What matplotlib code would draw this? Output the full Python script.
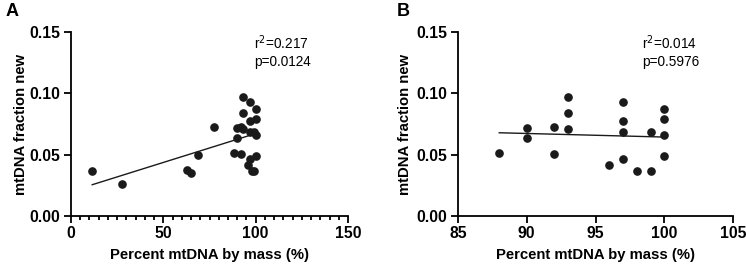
import numpy as np
import matplotlib
matplotlib.use("Agg")
import matplotlib.pyplot as plt
from matplotlib.ticker import MultipleLocator

plt.rcParams['font.family'] = ['Liberation Sans', 'DejaVu Sans']

# panel A: all samples
pct_a = [11.5, 27.6, 62.6, 64.8, 68.6, 77.6,
         88, 90, 90, 92, 92, 93, 93, 93, 96, 97, 97, 97, 97, 98, 99, 99, 100, 100, 100, 100]
frac_a = [0.0367, 0.0258, 0.0375, 0.0353, 0.0497, 0.0725,
          0.0516, 0.0715, 0.0636, 0.0725, 0.0508, 0.0973, 0.0837, 0.0712, 0.0413,
          0.0932, 0.0777, 0.0687, 0.0467, 0.0369, 0.0369, 0.0685, 0.0870, 0.0788, 0.0663, 0.0489]

# panel B: samples above 85%
pct_b = [88, 90, 90, 92, 92, 93, 93, 93, 96, 97, 97, 97, 97, 98, 99, 99, 100, 100, 100, 100]
frac_b = [0.0516, 0.0715, 0.0636, 0.0725, 0.0508, 0.0973, 0.0837, 0.0712, 0.0413,
          0.0932, 0.0777, 0.0687, 0.0467, 0.0369, 0.0369, 0.0685, 0.0870, 0.0788, 0.0663, 0.0489]

stats_a = "r$^2$=0.217\np=0.0124"
stats_b = "r$^2$=0.014\np=0.5976"

W, H = 746, 267
fig = plt.figure(figsize=(W / 100, H / 100), dpi=100)


def make_ax(left, right, top, bottom):
    return fig.add_axes([left / W, 1 - bottom / H, (right - left) / W, (bottom - top) / H])


def style(ax, xlim, xmajor, xminor, ylab_x):
    ax.set_xlim(*xlim)
    ax.set_ylim(0, 0.15)
    ax.xaxis.set_major_locator(MultipleLocator(xmajor))
    if xminor:
        ax.xaxis.set_minor_locator(MultipleLocator(xminor))
    ax.yaxis.set_major_locator(MultipleLocator(0.05))
    ax.yaxis.set_major_formatter(plt.FormatStrFormatter('%.2f'))
    for s in ['top', 'right']:
        ax.spines[s].set_visible(False)
    for s in ['left', 'bottom']:
        ax.spines[s].set_linewidth(1.3)
    ax.tick_params(which='major', length=5, width=1.3, labelsize=11.3, pad=2.5)
    ax.tick_params(which='minor', length=3, width=1.3)
    for lab in ax.get_xticklabels() + ax.get_yticklabels():
        lab.set_fontweight('bold')
    ax.set_xlabel("Percent mtDNA by mass (%)", fontsize=10.7, fontweight='bold', labelpad=5)
    ax.set_ylabel("mtDNA fraction new", fontsize=10.7, fontweight='bold')
    ax.yaxis.set_label_coords(ylab_x, 0.5)


def draw(ax, x, y, stats, tx):
    x = np.array(x)
    y = np.array(y)
    ax.plot(x, y, 'o', color='#1a1a1a', markersize=5.2, clip_on=False)
    k, b = np.polyfit(x, y, 1)
    xs = np.array([x.min(), x.max()])
    ax.plot(xs, k * xs + b, color='#1a1a1a', linewidth=1.0)
    ax.text(tx, 0.149, stats, fontsize=9.8, ha='left', va='top', linespacing=1.3)


ax_a = make_ax(71, 348, 32, 216)
draw(ax_a, pct_a, frac_a, stats_a, 99)
style(ax_a, (0, 150), 50, 5, -0.155)

ax_b = make_ax(458, 733, 32, 216)
draw(ax_b, pct_b, frac_b, stats_b, 98.4)
style(ax_b, (85, 105), 5, None, -0.168)

fig.text(6 / W, 1 - 12 / H, "A", fontsize=13, fontweight='bold', va='center', ha='left')
fig.text(397 / W, 1 - 12 / H, "B", fontsize=13, fontweight='bold', va='center', ha='left')

fig.savefig("out.png", dpi=100)
